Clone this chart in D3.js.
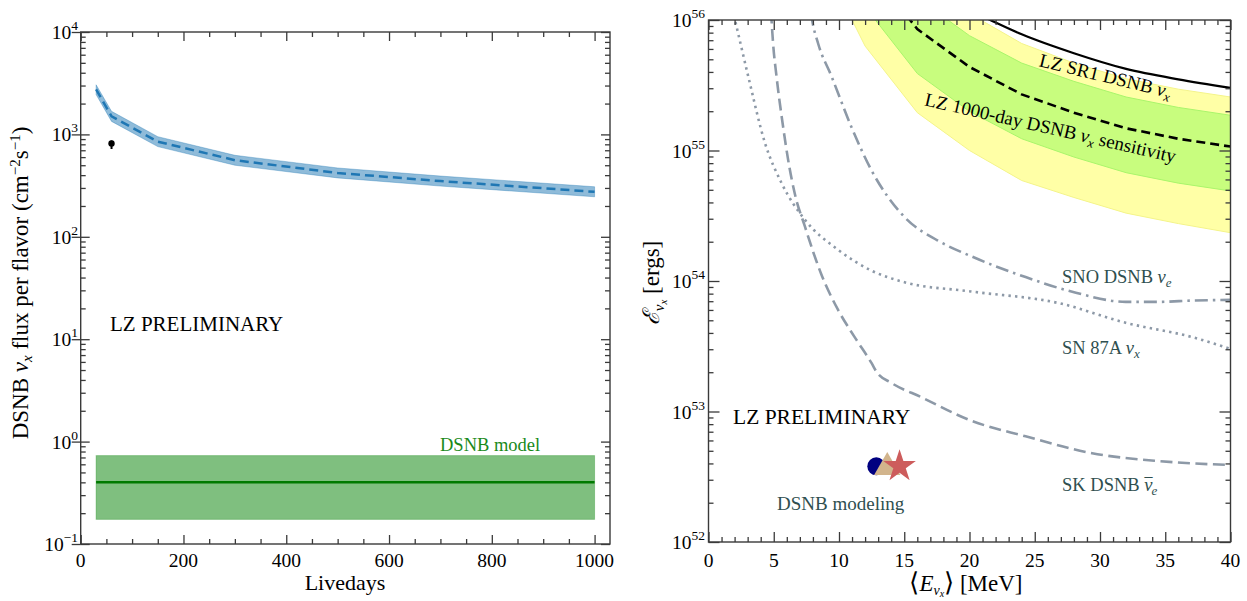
<!DOCTYPE html>
<html><head><meta charset="utf-8">
<script src="https://cdn.jsdelivr.net/npm/d3@7"></script>
<style>
html,body{margin:0;padding:0;background:#fff;}
svg{display:block;font-family:"Liberation Serif","Times New Roman",serif;}
</style></head>
<body>
<svg id="chart" width="1247" height="601"></svg>
<script>
// ---------------- DATA ----------------
// Left panel: DSNB nu_x flux sensitivity vs livedays
const livedays      = [30, 60, 150, 300, 500, 700, 1000];
const fluxMedian    = [2750, 1500, 850, 560, 420, 350, 275];
const fluxUpper     = [3050, 1680, 950, 625, 470, 392, 308];
const fluxLower     = [2450, 1340, 760, 500, 376, 313, 246];
const sr1Point      = {day: 60, flux: 815, lo: 720, hi: 870};
const modelDays     = [30, 1000];
const modelCentral  = 0.40;
const modelLow      = 0.174;
const modelHigh     = 0.73;
const leftXTicks    = [0, 200, 400, 600, 800, 1000];
const leftYExps     = [-1, 0, 1, 2, 3, 4];

// Right panel: total energy vs mean energy (log10 of erg values)
const lzE           = [8, 12, 16, 20, 24, 28, 32, 36, 40];
const lzDashedLog   = [57.1, 56.44, 55.93, 55.64, 55.43, 55.29, 55.17, 55.09, 55.03];
const lzGreenHiLog  = [57.3, 56.68, 56.17, 55.88, 55.67, 55.53, 55.41, 55.33, 55.27];
const lzGreenLoLog  = [56.9, 56.10, 55.59, 55.30, 55.09, 54.95, 54.83, 54.75, 54.69];
const lzYellowHiLog = [57.45, 56.82, 56.33, 56.05, 55.82, 55.67, 55.55, 55.47, 55.41];
const lzYellowLoLog = [56.6, 55.80, 55.29, 55.00, 54.77, 54.64, 54.52, 54.44, 54.37];
const sr1E          = [20, 22, 24, 28, 32, 36, 40];
const sr1Log        = [56.08, 55.98, 55.89, 55.745, 55.625, 55.545, 55.48];

const sn87E   = [1.6, 2.03, 3.04, 4.32, 5.6, 7.38, 9.92, 12.48, 15.02, 20.1, 26.87, 31.97, 37.06, 40];
const sn87Log = [56.18, 56.0, 55.57, 55.06, 54.75, 54.47, 54.24, 54.08, 53.99, 53.92, 53.83, 53.68, 53.57, 53.48];
const skE     = [4.72, 4.83, 4.95, 5.21, 5.72, 6.1, 6.61, 7.38, 8.65, 9.92, 11.2, 12.5, 12.9, 14.0, 16.3, 20.12, 24.3, 29.4, 34.5, 40];
const skLog   = [56.2, 56.0, 55.82, 55.57, 55.18, 54.93, 54.67, 54.42, 54.05, 53.78, 53.57, 53.37, 53.30, 53.22, 53.11, 52.93, 52.81, 52.68, 52.62, 52.59];
const snoE    = [7.6, 7.94, 8.4, 9.42, 10.95, 12.48, 15.02, 17.57, 20.12, 24.3, 28.15, 31.97, 34.5, 37.06, 40];
const snoLog  = [56.25, 56.0, 55.82, 55.57, 55.18, 54.85, 54.49, 54.31, 54.19, 54.03, 53.91, 53.84, 53.84, 53.85, 53.855];

const modelMarkers = [
  {E: 12.86, logE: 52.58, shape: "circle",   color: "#000080"},
  {E: 13.70, logE: 52.58, shape: "triangle", color: "#d2b48c"},
  {E: 14.64, logE: 52.58, shape: "star",     color: "#cd5c5c"}
];
const rightXTicks = [0, 5, 10, 15, 20, 25, 30, 35, 40];
const rightYExps  = [52, 53, 54, 55, 56];

// ---------------- SETUP ----------------
const svg = d3.select("#chart");
const FRAME = "#3a3a3a";
const GRAY = "#8d99a7";
const SLATE = "#2f4f4f";

const L = {x0: 80.7, x1: 610, y0: 32, y1: 544};
const R = {x0: 708.5, x1: 1230.5, y0: 20, y1: 542};

const xL = d3.scaleLinear().domain([0, 1030]).range([L.x0, L.x1]);
const yL = d3.scaleLog().domain([0.1, 1e4]).range([L.y1, L.y0]);
const xR = d3.scaleLinear().domain([0, 40]).range([R.x0, R.x1]);
const yR = d3.scaleLog().domain([1e52, 1e56]).range([R.y1, R.y0]);

const defs = svg.append("defs");
defs.append("clipPath").attr("id", "clipL").append("rect")
  .attr("x", L.x0).attr("y", L.y0).attr("width", L.x1 - L.x0).attr("height", L.y1 - L.y0);
defs.append("clipPath").attr("id", "clipR").append("rect")
  .attr("x", R.x0).attr("y", R.y0).attr("width", R.x1 - R.x0).attr("height", R.y1 - R.y0);

function rich(sel, parts) {
  parts.forEach(p => {
    const t = sel.append("tspan").text(p.t);
    if (p.it) t.attr("font-style", "italic");
    if (p.size) t.attr("font-size", p.size);
    if (p.dy !== undefined) t.attr("dy", p.dy);
    if (p.dx !== undefined) t.attr("dx", p.dx);
  });
  return sel;
}

// ---------------- LEFT PANEL ----------------
const gL = svg.append("g");
const plotL = gL.append("g").attr("clip-path", "url(#clipL)");

plotL.append("rect")
  .attr("x", xL(modelDays[0])).attr("width", xL(modelDays[1]) - xL(modelDays[0]))
  .attr("y", yL(modelHigh)).attr("height", yL(modelLow) - yL(modelHigh))
  .attr("fill", "#008000").attr("fill-opacity", 0.5)
  .attr("stroke", "#008000").attr("stroke-opacity", 0.3).attr("stroke-width", 1);
plotL.append("line")
  .attr("x1", xL(modelDays[0])).attr("x2", xL(modelDays[1]))
  .attr("y1", yL(modelCentral)).attr("y2", yL(modelCentral))
  .attr("stroke", "#007a00").attr("stroke-width", 2.5);

const fluxRows = livedays.map((d, i) => ({d, m: fluxMedian[i], lo: fluxLower[i], hi: fluxUpper[i]}));
plotL.append("path").datum(fluxRows)
  .attr("d", d3.area().x(r => xL(r.d)).y0(r => yL(r.lo)).y1(r => yL(r.hi)))
  .attr("fill", "#1f77b4").attr("fill-opacity", 0.5)
  .attr("stroke", "#1f77b4").attr("stroke-opacity", 0.35).attr("stroke-width", 1);
plotL.append("path").datum(fluxRows)
  .attr("d", d3.line().x(r => xL(r.d)).y(r => yL(r.m)))
  .attr("fill", "none").attr("stroke", "#1f77b4").attr("stroke-width", 2.5)
  .attr("stroke-dasharray", "9,5");

plotL.append("line")
  .attr("x1", xL(sr1Point.day)).attr("x2", xL(sr1Point.day))
  .attr("y1", yL(sr1Point.hi)).attr("y2", yL(sr1Point.lo))
  .attr("stroke", "#000").attr("stroke-width", 2);
plotL.append("circle")
  .attr("cx", xL(sr1Point.day)).attr("cy", yL(sr1Point.flux)).attr("r", 3.2).attr("fill", "#000");

gL.append("text").attr("x", 110).attr("y", 331).attr("font-size", 21).attr("fill", "#000").text("LZ PRELIMINARY");
gL.append("text").attr("x", 440).attr("y", 451).attr("font-size", 18.5).attr("fill", "#1a8a1a").text("DSNB model");

gL.append("rect").attr("x", L.x0).attr("y", L.y0).attr("width", L.x1 - L.x0).attr("height", L.y1 - L.y0)
  .attr("fill", "none").attr("stroke", FRAME).attr("stroke-width", 1.4);

function logMinor(expLo, expHi) {
  const out = [];
  for (let e = expLo; e < expHi; e++) for (let k = 2; k <= 9; k++) out.push(k * Math.pow(10, e));
  return out;
}
function addAxis(g, axisFn, scale, values, size, offset) {
  const a = axisFn(scale).tickValues(values).tickSize(size).tickFormat("");
  const ag = g.append("g").attr("transform", offset).call(a);
  ag.select(".domain").remove();
  ag.selectAll("line").attr("stroke", FRAME).attr("stroke-width", 1.3);
  return ag;
}
const leftMinorX = d3.range(0, 1001, 50).filter(v => v % 200 !== 0);
addAxis(gL, d3.axisBottom, xL, leftXTicks, -9, `translate(0,${L.y1})`);
addAxis(gL, d3.axisBottom, xL, leftMinorX, -5, `translate(0,${L.y1})`);
addAxis(gL, d3.axisTop, xL, leftXTicks, -9, `translate(0,${L.y0})`);
addAxis(gL, d3.axisTop, xL, leftMinorX, -5, `translate(0,${L.y0})`);
const leftMajorY = leftYExps.map(e => Math.pow(10, e));
const leftMinorY = logMinor(-1, 4);
addAxis(gL, d3.axisLeft, yL, leftMajorY, 9, `translate(${L.x0},0)`);
addAxis(gL, d3.axisLeft, yL, leftMajorY, -9, `translate(${L.x0},0)`);
addAxis(gL, d3.axisLeft, yL, leftMinorY, -5, `translate(${L.x0},0)`);
addAxis(gL, d3.axisRight, yL, leftMajorY, -9, `translate(${L.x1},0)`);
addAxis(gL, d3.axisRight, yL, leftMinorY, -5, `translate(${L.x1},0)`);

leftXTicks.forEach(v => {
  gL.append("text").attr("x", xL(v)).attr("y", 567).attr("text-anchor", "middle")
    .attr("font-size", 19.5).text(v);
});
leftYExps.forEach(e => {
  const t = gL.append("text").attr("x", 78).attr("y", yL(Math.pow(10, e)) + 7)
    .attr("text-anchor", "end").attr("font-size", 19.5);
  rich(t, [{t: "10"}, {t: e < 0 ? "\u2212" + (-e) : String(e), size: 13.5, dy: -9}]);
});

gL.append("text").attr("x", 345).attr("y", 590).attr("text-anchor", "middle")
  .attr("font-size", 22).text("Livedays");
const ylabL = gL.append("text").attr("transform", "translate(28,283) rotate(-90)")
  .attr("text-anchor", "middle").attr("font-size", 23);
rich(ylabL, [
  {t: "DSNB "}, {t: "\u03bd", it: true}, {t: "x", it: true, size: 15, dy: 4},
  {t: " flux per flavor (cm", dy: -4}, {t: "\u22122", size: 15, dy: -8}, {t: "s", dy: 8},
  {t: "\u22121", size: 15, dy: -8}, {t: ")", dy: 8}
]);

// ---------------- RIGHT PANEL ----------------
const gR = svg.append("g");
const plotR = gR.append("g").attr("clip-path", "url(#clipR)");
const p10 = v => Math.pow(10, v);

function bandRows(xs, lo, hi) { return xs.map((x, i) => ({x, lo: lo[i], hi: hi[i]})); }
const bandArea = d3.area().x(r => xR(r.x)).y0(r => yR(p10(r.lo))).y1(r => yR(p10(r.hi)));

plotR.append("path").datum(bandRows(lzE, lzYellowLoLog, lzYellowHiLog)).attr("d", bandArea)
  .attr("fill", "#ffffa6").attr("stroke", "#f4f48a").attr("stroke-width", 1);
plotR.append("path").datum(bandRows(lzE, lzGreenLoLog, lzGreenHiLog)).attr("d", bandArea)
  .attr("fill", "#c8fd7e").attr("stroke", "#a9f56b").attr("stroke-width", 1);

const lineR = d3.line().x(d => xR(d[0])).y(d => yR(p10(d[1])));
const smoothR = d3.line().curve(d3.curveMonotoneX).x(d => xR(d[0])).y(d => yR(p10(d[1])));
const zip = (a, b) => a.map((v, i) => [v, b[i]]);

plotR.append("path").datum(zip(lzE, lzDashedLog)).attr("d", lineR)
  .attr("fill", "none").attr("stroke", "#000").attr("stroke-width", 2.6).attr("stroke-dasharray", "9,5");
plotR.append("path").datum(zip(sr1E, sr1Log)).attr("d", smoothR)
  .attr("fill", "none").attr("stroke", "#000").attr("stroke-width", 2.2);

plotR.append("path").datum(zip(snoE, snoLog)).attr("d", smoothR)
  .attr("fill", "none").attr("stroke", GRAY).attr("stroke-width", 2.6)
  .attr("stroke-dasharray", "13,5,2.5,5");
plotR.append("path").datum(zip(sn87E, sn87Log)).attr("d", smoothR)
  .attr("fill", "none").attr("stroke", GRAY).attr("stroke-width", 2.6)
  .attr("stroke-dasharray", "2.4,4.2");
plotR.append("path").datum(zip(skE, skLog)).attr("d", smoothR)
  .attr("fill", "none").attr("stroke", GRAY).attr("stroke-width", 2.6)
  .attr("stroke-dasharray", "12,5.5");

modelMarkers.forEach(m => {
  const cx = xR(m.E), cy = yR(p10(m.logE));
  if (m.shape === "circle") {
    plotR.append("circle").attr("cx", cx).attr("cy", cy).attr("r", 9).attr("fill", m.color);
  } else if (m.shape === "triangle") {
    plotR.append("path").attr("d", d3.symbol(d3.symbolTriangle, 300)())
      .attr("transform", `translate(${cx},${cy + 1})`).attr("fill", m.color);
  } else {
    plotR.append("path").attr("d", d3.symbol(d3.symbolStar, 330)())
      .attr("transform", `translate(${cx},${cy})`).attr("fill", m.color);
  }
});

gR.append("text").attr("x", 733).attr("y", 424).attr("font-size", 21.5).attr("fill", "#000").text("LZ PRELIMINARY");
gR.append("text").attr("x", 777).attr("y", 510).attr("font-size", 19).attr("fill", SLATE).text("DSNB modeling");

const t1 = gR.append("text").attr("transform", "translate(1104,82) rotate(13.7)")
  .attr("text-anchor", "middle").attr("font-size", 19).attr("fill", "#000");
rich(t1, [{t: "LZ SR1 DSNB "}, {t: "\u03bd", it: true}, {t: "x", it: true, size: 13, dy: 4}]);
const t2 = gR.append("text").attr("transform", "translate(1049,134) rotate(12.9)")
  .attr("text-anchor", "middle").attr("font-size", 19).attr("fill", "#000");
rich(t2, [{t: "LZ 1000-day DSNB "}, {t: "\u03bd", it: true}, {t: "x", it: true, size: 13, dy: 4}, {t: " sensitivity", dy: -4}]);

const t3 = gR.append("text").attr("x", 1062).attr("y", 283).attr("font-size", 18.5).attr("fill", SLATE);
rich(t3, [{t: "SNO DSNB "}, {t: "\u03bd", it: true}, {t: "e", it: true, size: 13, dy: 4}]);
const t4 = gR.append("text").attr("x", 1062).attr("y", 354).attr("font-size", 18.5).attr("fill", SLATE);
rich(t4, [{t: "SN 87A "}, {t: "\u03bd", it: true}, {t: "x", it: true, size: 13, dy: 4}]);
const t5 = gR.append("text").attr("x", 1062).attr("y", 491).attr("font-size", 18.5).attr("fill", SLATE);
rich(t5, [{t: "SK DSNB "}, {t: "\u03bd", it: true}, {t: "\u00af", size: 16, dx: -8, dy: -1}, {t: "e", it: true, size: 13, dx: -1, dy: 5}]);

gR.append("rect").attr("x", R.x0).attr("y", R.y0).attr("width", R.x1 - R.x0).attr("height", R.y1 - R.y0)
  .attr("fill", "none").attr("stroke", FRAME).attr("stroke-width", 1.4);

const rightMinorX = d3.range(0, 41, 1).filter(v => v % 5 !== 0);
addAxis(gR, d3.axisBottom, xR, rightXTicks, -10, `translate(0,${R.y1})`);
addAxis(gR, d3.axisBottom, xR, rightMinorX, -5, `translate(0,${R.y1})`);
addAxis(gR, d3.axisTop, xR, rightXTicks, -10, `translate(0,${R.y0})`);
addAxis(gR, d3.axisTop, xR, rightMinorX, -5, `translate(0,${R.y0})`);
const rightMajorY = rightYExps.map(e => Math.pow(10, e));
const rightMinorY = logMinor(52, 56);
addAxis(gR, d3.axisLeft, yR, rightMajorY, -11, `translate(${R.x0},0)`);
addAxis(gR, d3.axisLeft, yR, rightMinorY, -5, `translate(${R.x0},0)`);
addAxis(gR, d3.axisRight, yR, rightMajorY, -11, `translate(${R.x1},0)`);
addAxis(gR, d3.axisRight, yR, rightMinorY, -5, `translate(${R.x1},0)`);

rightXTicks.forEach(v => {
  gR.append("text").attr("x", xR(v)).attr("y", 567).attr("text-anchor", "middle")
    .attr("font-size", 19.5).text(v);
});
rightYExps.forEach(e => {
  const t = gR.append("text").attr("x", 705).attr("y", yR(Math.pow(10, e)) + 7)
    .attr("text-anchor", "end").attr("font-size", 19.5);
  rich(t, [{t: "10"}, {t: String(e), size: 13.5, dy: -9}]);
});

const xlabR = gR.append("text").attr("x", 966).attr("y", 591).attr("text-anchor", "middle").attr("font-size", 23);
rich(xlabR, [
  {t: "\u27e8", size: 26}, {t: "E", it: true}, {t: "\u03bd", it: true, size: 14, dy: 4},
  {t: "x", it: true, size: 10, dy: 2}, {t: "\u27e9", size: 26, dy: -6}, {t: " [MeV]"}
]);
const ylabR = gR.append("text").attr("transform", "translate(659,283) rotate(-90)")
  .attr("text-anchor", "middle").attr("font-size", 23);
rich(ylabR, [
  {t: "\u2130", it: true}, {t: "\u03bd", it: true, size: 15, dy: 5},
  {t: "x", it: true, size: 11, dy: 3}, {t: " [ergs]", dy: -8}
]);
</script>
</body></html>
